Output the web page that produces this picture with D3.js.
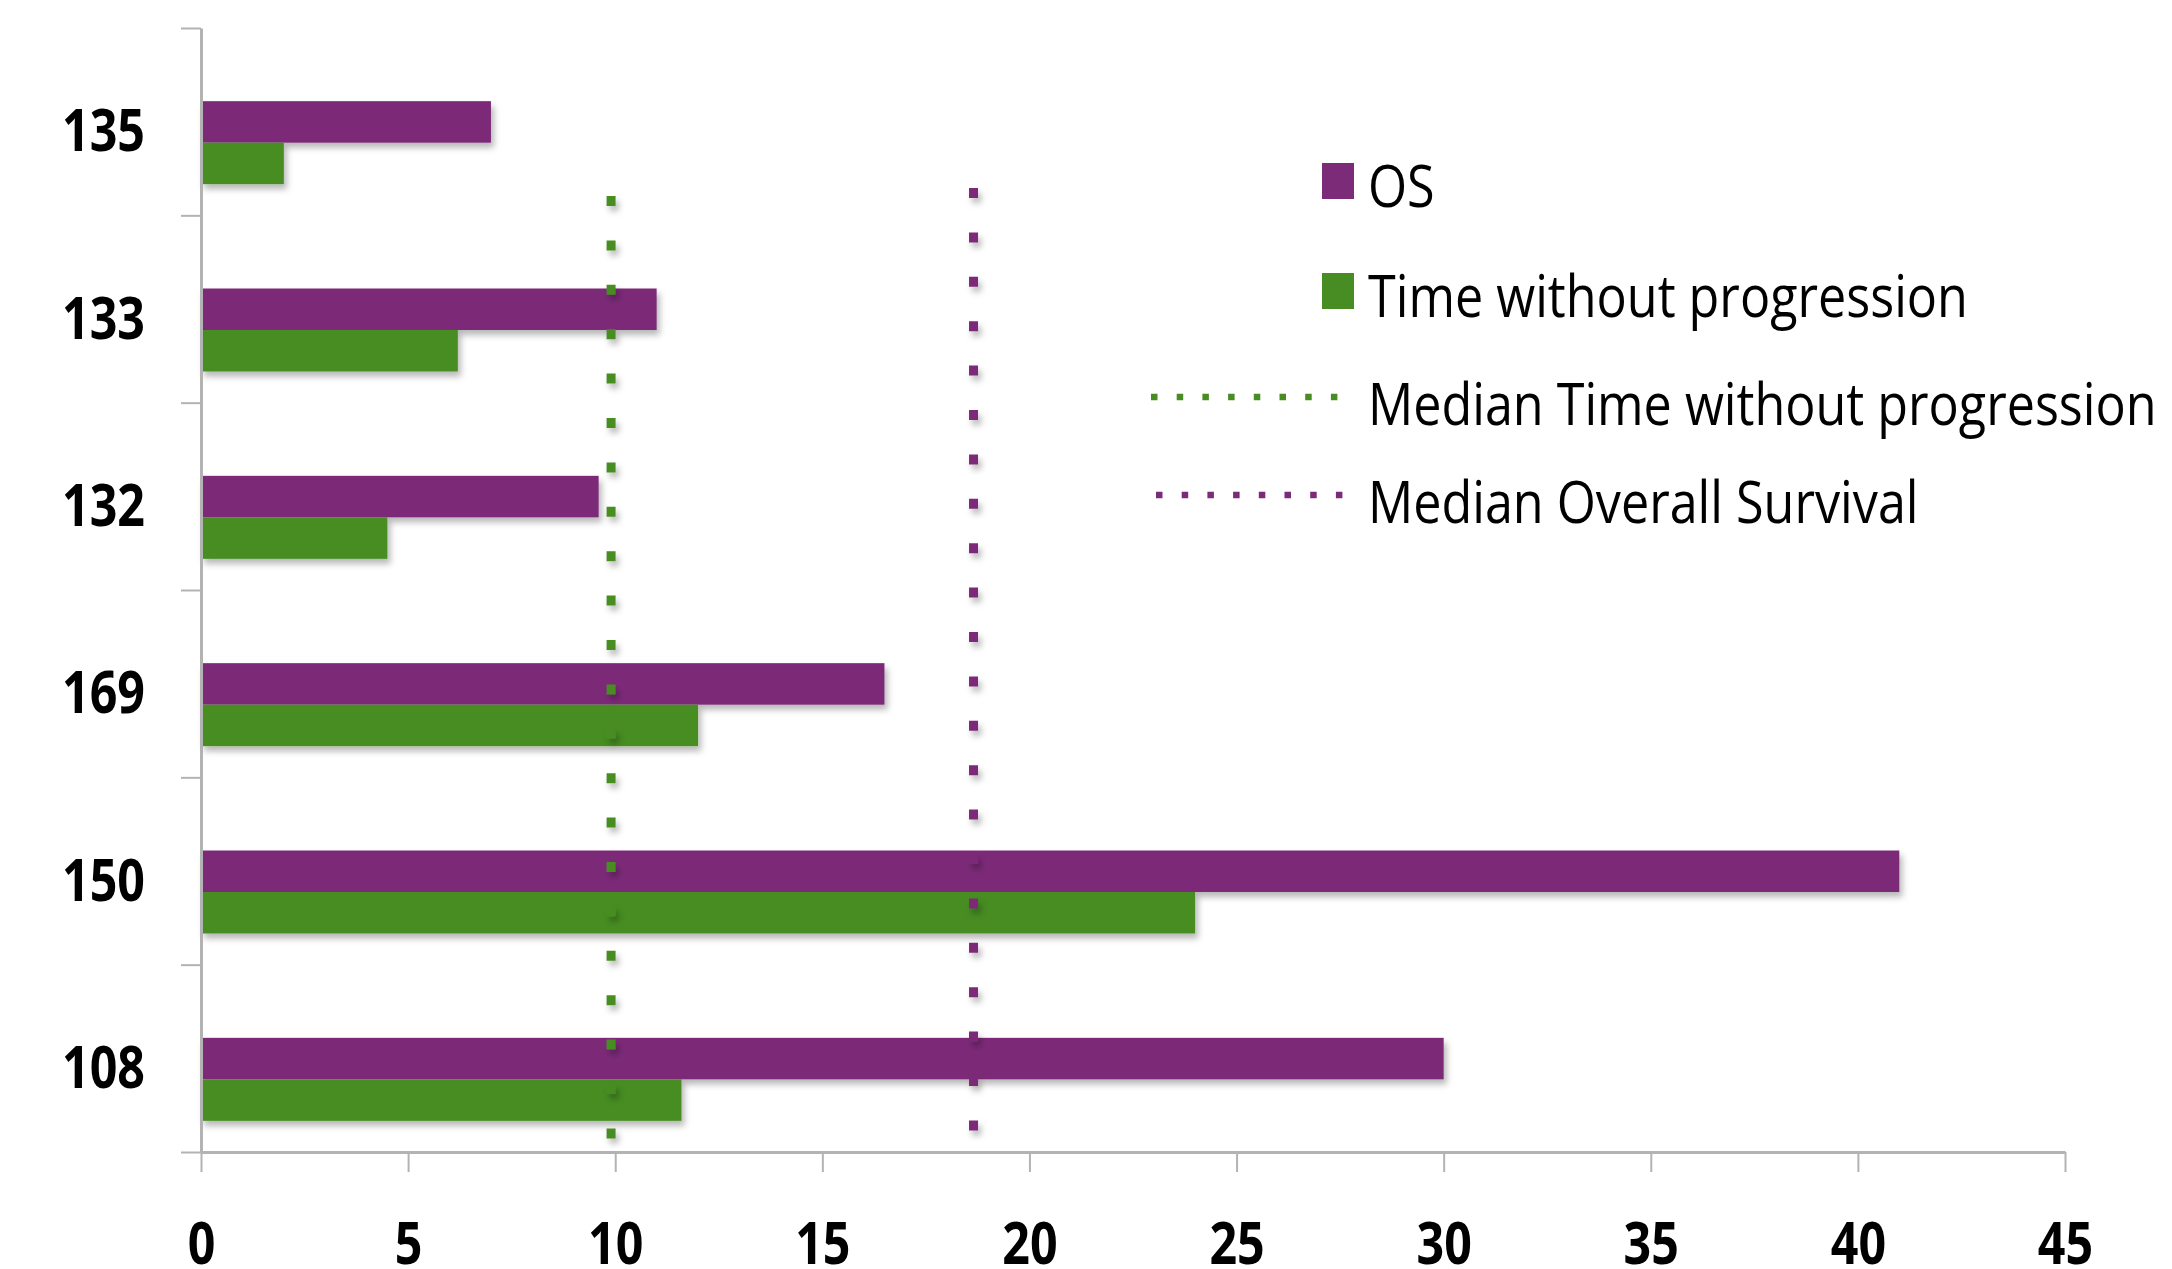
<!DOCTYPE html>
<html>
<head>
<meta charset="utf-8">
<script src="https://cdn.jsdelivr.net/npm/d3@7"></script>
<style>
  body { margin: 0; background: #fff; }
  text { font-family: "Open Sans", sans-serif; fill: #000; }
</style>
</head>
<body>
<div id="chart"></div>
<script>
// data (months)
var patients = ["135", "133", "132", "169", "150", "108"];
var osMonths = [7, 11, 9.6, 16.5, 41, 30];
var tfpMonths = [2, 6.2, 4.5, 12, 24, 11.6];
var xTicks = [0, 5, 10, 15, 20, 25, 30, 35, 40, 45];
var medianTfp = 9.9;
var medianOs = 18.65;
var legendLabels = ["OS", "Time without progression", "Median Time without progression", "Median Overall Survival"];

var purple = "#7b2b78";
var green = "#478d23";
var axisGrey = "#b3b3b3";

var svgWidth = 2172;
var svgHeight = 1269;
var margin = { top: 28, right: 107, bottom: 117, left: 201 };
var width = svgWidth - margin.left - margin.right;
var height = svgHeight - margin.top - margin.bottom;

var svg = d3.select("#chart")
  .append("svg")
  .attr("width", svgWidth)
  .attr("height", svgHeight);

// soft drop shadow like the office chart
var defs = svg.append("defs");
defs.append("filter")
  .attr("id", "shadow")
  .attr("x", "-5%").attr("y", "-30%").attr("width", "110%").attr("height", "180%")
  .append("feDropShadow")
  .attr("dx", 3).attr("dy", 5).attr("stdDeviation", 3)
  .attr("flood-color", "#000").attr("flood-opacity", 0.28);

var chartGroup = svg.append("g")
  .attr("transform", `translate(${margin.left}, ${margin.top})`);

var x = d3.scaleLinear().domain([0, 45]).range([0, width]);
var y = d3.scaleBand().domain(patients).range([0, height]);
var yEdge = d3.scaleLinear().domain([0, patients.length]).range([0, height]);

var barH = 41.5;
var barShift = 21; // bar pair sits a bit below the band centre

// squeeze text horizontally (the source font is a narrow one)
function squeeze(sel, sx) {
  sel.each(function() {
    var t = d3.select(this);
    var tx = +t.attr("x") || 0;
    t.attr("x", 0).attr("transform", `translate(${tx},0) scale(${sx},1)`);
  });
}

// bars
var rows = patients.map(function(p, i) {
  return { p: p, os: osMonths[i], tfp: tfpMonths[i] };
});

var barGroup = chartGroup.append("g").attr("filter", "url(#shadow)");

barGroup.selectAll(".os")
  .data(rows)
  .enter()
  .append("rect")
  .attr("class", "os")
  .attr("x", x(0))
  .attr("y", d => y(d.p) + y.bandwidth() / 2 + barShift - barH)
  .attr("width", d => x(d.os) - x(0))
  .attr("height", barH)
  .attr("fill", purple);

barGroup.selectAll(".tfp")
  .data(rows)
  .enter()
  .append("rect")
  .attr("class", "tfp")
  .attr("x", x(0))
  .attr("y", d => y(d.p) + y.bandwidth() / 2 + barShift)
  .attr("width", d => x(d.tfp) - x(0))
  .attr("height", barH)
  .attr("fill", green);

// axes
var edgeAxis = d3.axisLeft(yEdge)
  .tickValues(d3.range(patients.length + 1))
  .tickSize(20)
  .tickSizeOuter(0)
  .tickFormat("");

var gEdge = chartGroup.append("g").call(edgeAxis);

var gx = chartGroup.append("g")
  .attr("transform", `translate(0, ${height})`)
  .call(d3.axisBottom(x).tickValues(xTicks).tickSize(20).tickSizeOuter(0).tickPadding(50));

[gEdge, gx].forEach(function(g) {
  g.select(".domain").attr("stroke", axisGrey).attr("stroke-width", 3);
  g.selectAll(".tick line").attr("stroke", axisGrey).attr("stroke-width", 2);
});

var gy = chartGroup.append("g")
  .call(d3.axisLeft(y).tickSize(0).tickPadding(56));
gy.select(".domain").remove();

var tickText = svg.selectAll(".tick text")
  .attr("font-family", "Open Sans")
  .attr("font-size", 59)
  .attr("font-weight", "bold")
  .attr("fill", "#000");
gy.selectAll(".tick text").attr("dy", "0.5em");

var probe = gy.select(".tick text").node();
var tickSx = 83 / probe.getComputedTextLength();
squeeze(tickText, tickSx);

// median lines (dotted)
var medians = [
  { value: medianTfp, color: green, y0: 168, y1: 1111 },
  { value: medianOs, color: purple, y0: 160, y1: 1105 }
];

chartGroup.append("g")
  .attr("filter", "url(#shadow)")
  .selectAll("line")
  .data(medians)
  .enter()
  .append("line")
  .attr("x1", d => x(d.value))
  .attr("x2", d => x(d.value))
  .attr("y1", d => d.y0)
  .attr("y2", d => d.y1)
  .attr("stroke", d => d.color)
  .attr("stroke-width", 9)
  .attr("stroke-dasharray", "10 34.4");

// legend
var legendBaselines = [207, 317, 425, 523];
var legendColors = [purple, green, green, purple];
var legend = svg.append("g");

legendLabels.forEach(function(label, i) {
  var by = legendBaselines[i];
  if (i < 2) {
    legend.append("rect")
      .attr("x", 1322)
      .attr("y", by - 44)
      .attr("width", 32)
      .attr("height", 36)
      .attr("fill", legendColors[i]);
  } else {
    legend.append("line")
      .attr("x1", 1151 + (i - 2) * 5)
      .attr("x2", 1338 + (i - 2) * 5)
      .attr("y1", by - 28)
      .attr("y2", by - 28)
      .attr("stroke", legendColors[i])
      .attr("stroke-width", 6.5)
      .attr("stroke-dasharray", "6.5 19.2");
  }
  legend.append("text")
    .attr("class", "legend-label")
    .attr("x", 1368)
    .attr("y", by)
    .attr("font-size", 58)
    .text(label);
});

var legendText = legend.selectAll(".legend-label");
var legendSx = 600 / legendText.filter((d, i) => i === 1).node().getComputedTextLength();
squeeze(legendText, legendSx);
</script>
</body>
</html>
